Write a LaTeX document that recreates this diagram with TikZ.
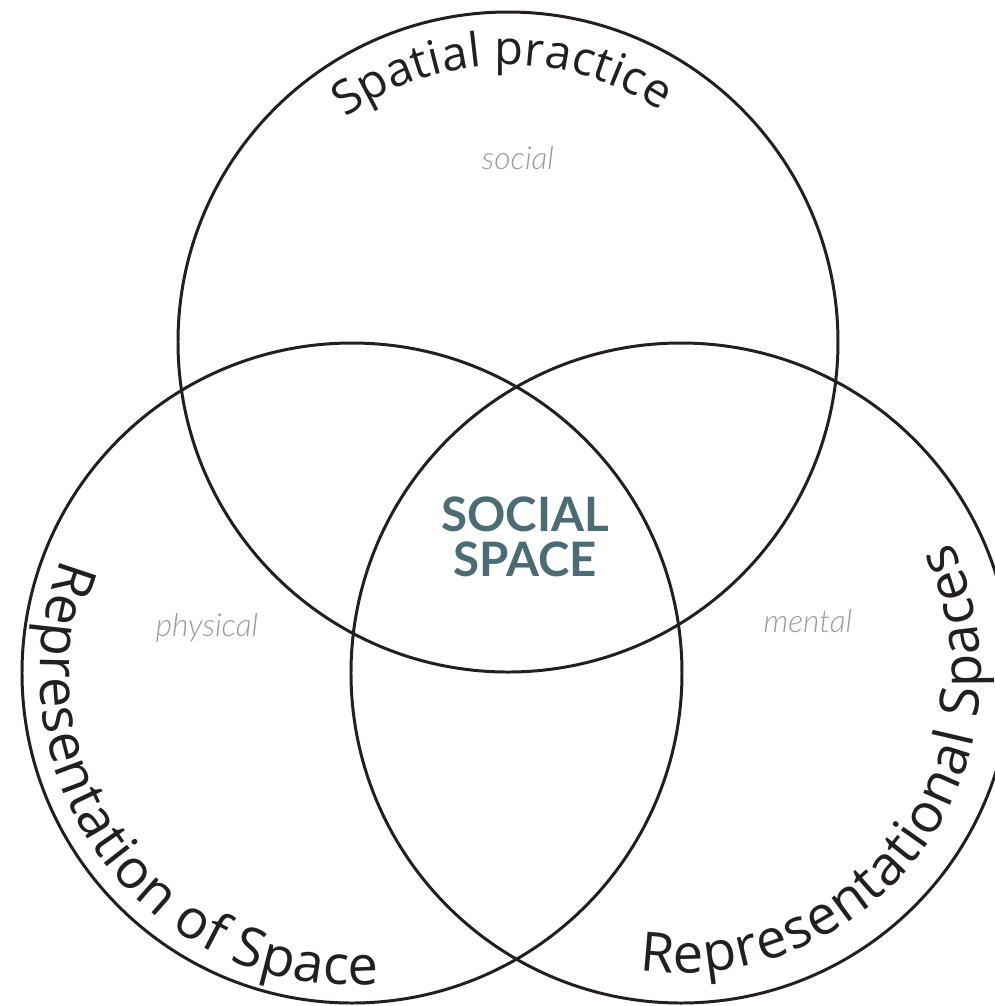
\documentclass[tikz,border=0pt]{standalone}
\usepackage{fontspec}
\usetikzlibrary{decorations.text}
\newfontfamily\arcfont{Open Sans}
\newfontfamily\latofont{Lato}
\newfontfamily\softfont{Lato Light Italic}
\definecolor{ink}{HTML}{231F20}
\definecolor{slate}{HTML}{4B6C74}
\definecolor{faint}{HTML}{9A9A9A}

\begin{document}
\begin{tikzpicture}[
    ring/.style={draw=ink, line width=0.85pt},
    arclabel/.style 2 args={decorate, decoration={text along path,
        text={|\arcfont\fontsize{#1}{16}\selectfont|#2},
        text color=ink, text align=fit to path}},
    soft/.style={font=\softfont\fontsize{9}{11}\selectfont,
        text=faint, inner sep=0pt}
  ]
  \useasboundingbox (0,0) rectangle (9.95,-10.06);

  % centres of the three circles
  \coordinate (perceived) at (5.08,-3.42);
  \coordinate (conceived) at (3.52,-6.73);
  \coordinate (lived) at (6.81,-6.73);

  \draw[ring] (perceived) circle[radius=3.3];
  \draw[ring] (conceived) circle[radius=3.3];
  \draw[ring] (lived) circle[radius=3.3];

  % labels along the rims
  \path[arclabel={13.4}{Spatial practice}] (perceived) ++(126:2.77)
    arc[start angle=126, end angle=56.5, radius=2.77];
  \path[arclabel={15.5}{Representation of Space}] (conceived) ++(158.5:3.12)
    arc[start angle=158.5, end angle=275, radius=3.12];
  \path[arclabel={15.5}{Representational Spaces}] (lived) ++(-98:3.0)
    arc[start angle=-98, end angle=26, radius=3.0];

  \node[font=\latofont\bfseries\fontsize{13.5}{12.8}\selectfont,
    text=slate, align=center, inner sep=0pt] (hub) at (5.25,-5.37)
    {SOCIAL\\SPACE};

  \node[soft] (social) at (5.18,-1.58) {social};
  \node[soft] (physical) at (2.07,-6.28) {physical};
  \node[soft] (mental) at (8.08,-6.21) {mental};
\end{tikzpicture}
\end{document}
